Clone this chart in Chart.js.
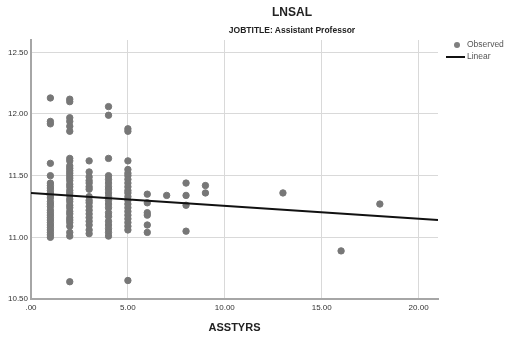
<!DOCTYPE html>
<html>
<head>
<meta charset="utf-8">
<script src="https://cdn.jsdelivr.net/npm/chart.js@4"></script>
<style>
  body { margin: 0; background: #fff; font-family: "Liberation Sans", Arial, sans-serif; }
  #wrap { position: relative; width: 507px; height: 339px; }
  .ttl { position: absolute; left: 192px; width: 200px; text-align: center; font-weight: bold; color: #222; }
  #legend { position: absolute; left: 446px; top: 38px; font-size: 8.5px; color: #555; }
  #legend div { height: 12px; line-height: 12px; white-space: nowrap; }
  .dot { display: inline-block; width: 6px; height: 6px; border-radius: 50%; background: #7f7f7f; margin: 0 7px 0 8px; vertical-align: middle; }
  .ln { display: inline-block; width: 19px; height: 2px; background: #111; margin-right: 2px; vertical-align: middle; }
</style>
</head>
<body>
<div id="wrap">
  <canvas id="chart" width="507" height="339"></canvas>
  <div class="ttl" style="top:5px;font-size:12px;">LNSAL</div>
  <div class="ttl" style="top:25px;font-size:8.5px;">JOBTITLE: Assistant Professor</div>
  <div id="legend">
    <div><span class="dot"></span>Observed</div>
    <div><span class="ln"></span>Linear</div>
  </div>
</div>
<script>
// years as assistant professor, and the observed LNSAL values in each column
const years = [1, 2, 3, 4, 5, 6, 7, 8, 9, 13, 16, 18];
const lnsalByYear = [
    [12.13, 11.94, 11.92, 11.60, 11.50, 11.44, 11.42, 11.40, 11.38, 11.36, 11.34, 11.32, 11.29, 11.27, 11.25, 11.22, 11.20, 11.18, 11.16, 11.14, 11.12, 11.10, 11.08, 11.06, 11.04, 11.02, 11.00],
    [12.12, 12.10, 11.97, 11.94, 11.90, 11.86, 11.64, 11.62, 11.58, 11.56, 11.54, 11.52, 11.50, 11.48, 11.46, 11.43, 11.41, 11.38, 11.36, 11.34, 11.31, 11.29, 11.26, 11.24, 11.21, 11.19, 11.16, 11.14, 11.12, 11.09, 11.04, 11.01, 10.64],
    [11.62, 11.53, 11.49, 11.46, 11.44, 11.41, 11.39, 11.33, 11.30, 11.28, 11.25, 11.22, 11.19, 11.16, 11.13, 11.10, 11.06, 11.03],
    [12.06, 11.99, 11.64, 11.50, 11.47, 11.44, 11.41, 11.39, 11.36, 11.33, 11.30, 11.27, 11.24, 11.20, 11.17, 11.13, 11.10, 11.07, 11.04, 11.01],
    [11.88, 11.86, 11.62, 11.55, 11.52, 11.50, 11.47, 11.44, 11.41, 11.38, 11.36, 11.33, 11.30, 11.27, 11.24, 11.21, 11.18, 11.15, 11.12, 11.09, 11.06, 10.65],
    [11.35, 11.28, 11.20, 11.18, 11.10, 11.04],
    [11.34],
    [11.44, 11.34, 11.26, 11.05],
    [11.42, 11.36],
    [11.36],
    [10.89],
    [11.27]
];

// fitted linear line, read at both ends of the axis
const fitX = [0, 21];
const fitY = [11.36, 11.14];

const xTicks = [0, 5, 10, 15, 20];
const yTicks = [10.5, 11.0, 11.5, 12.0, 12.5];

let observed = [];
years.forEach((yr, i) => {
    lnsalByYear[i].forEach(v => observed.push({ x: yr, y: v }));
});
const fitted = fitX.map((x, i) => ({ x: x, y: fitY[i] }));

const ctx = document.getElementById('chart').getContext('2d');
new Chart(ctx, {
    type: 'scatter',
    data: {
        datasets: [{
            label: 'Linear',
            type: 'line',
            data: fitted,
            borderColor: '#111',
            borderWidth: 2,
            pointRadius: 0,
            fill: false
        }, {
            label: 'Observed',
            data: observed,
            backgroundColor: '#777',
            borderColor: '#777',
            pointRadius: 3.2,
            pointHoverRadius: 3.2
        }]
    },
    options: {
        responsive: false,
        animation: false,
        layout: { padding: { top: 40, right: 69, left: 0, bottom: 0 } },
        plugins: { legend: { display: false }, tooltip: { enabled: false } },
        scales: {
            x: {
                type: 'linear',
                min: 0,
                max: 21,
                afterBuildTicks: s => { s.ticks = xTicks.map(v => ({ value: v })); },
                afterFit: s => { s.height = 40; },
                grid: { color: '#d9d9d9', drawTicks: false },
                border: { color: '#a6a6a6', width: 2 },
                ticks: {
                    padding: 4,
                    color: '#333',
                    font: { family: 'Liberation Sans', size: 8 },
                    callback: v => v === 0 ? '.00' : v.toFixed(2)
                },
                title: {
                    display: true,
                    text: 'ASSTYRS',
                    color: '#222',
                    font: { family: 'Liberation Sans', size: 11, weight: 'bold' },
                    padding: { top: 8, bottom: 4 }
                }
            },
            y: {
                min: 10.5,
                max: 12.6,
                afterBuildTicks: s => { s.ticks = yTicks.map(v => ({ value: v })); },
                afterFit: s => { s.width = 31; },
                grid: { color: '#d9d9d9', drawTicks: false },
                border: { color: '#a6a6a6', width: 2 },
                ticks: {
                    padding: 3,
                    color: '#333',
                    font: { family: 'Liberation Sans', size: 8 },
                    callback: v => v.toFixed(2)
                }
            }
        }
    }
});
</script>
</body>
</html>
